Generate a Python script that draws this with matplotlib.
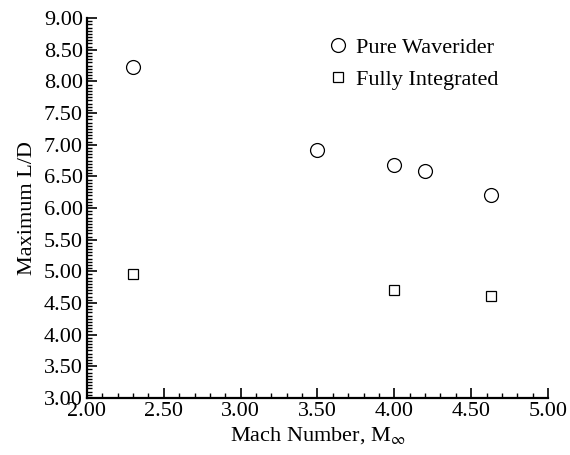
import numpy as np
import matplotlib.pyplot as plt
from matplotlib.ticker import MultipleLocator, FormatStrFormatter

plt.rcParams['font.family'] = ['Liberation Serif', 'DejaVu Serif']
plt.rcParams['mathtext.fontset'] = 'stix'

# Maximum L/D versus freestream Mach number
mach_pure = [2.30, 3.50, 4.00, 4.20, 4.63]
ld_pure = [8.22, 6.91, 6.68, 6.59, 6.20]

mach_integrated = [2.30, 4.00, 4.63]
ld_integrated = [4.96, 4.70, 4.61]

fig = plt.figure(figsize=(5.7, 4.55), dpi=100)
ax = fig.add_axes([0.1526, 0.1253, 0.8088, 0.8351])

ax.plot(mach_pure, ld_pure, linestyle='none', marker='o', markersize=10,
        markerfacecolor='white', markeredgecolor='black', markeredgewidth=0.9,
        label='Pure Waverider', clip_on=False)
ax.plot(mach_integrated, ld_integrated, linestyle='none', marker='s', markersize=7.5,
        markerfacecolor='white', markeredgecolor='black', markeredgewidth=0.9,
        label='Fully Integrated', clip_on=False)

ax.set_xlim(2.0, 5.0)
ax.set_ylim(3.0, 9.0)
ax.xaxis.set_major_locator(MultipleLocator(0.5))
ax.xaxis.set_minor_locator(MultipleLocator(0.1))
ax.yaxis.set_major_locator(MultipleLocator(0.5))
ax.yaxis.set_minor_locator(MultipleLocator(0.05))
ax.xaxis.set_major_formatter(FormatStrFormatter('%.2f'))
ax.yaxis.set_major_formatter(FormatStrFormatter('%.2f'))

for side in ['top', 'right']:
    ax.spines[side].set_visible(False)
for side in ['left', 'bottom']:
    ax.spines[side].set_linewidth(1.6)

ax.tick_params(which='major', direction='in', length=7, width=1.2, labelsize=16, pad=3)
ax.tick_params(which='minor', direction='in', length=3.5, width=1.0)

ax.set_xlabel(r'Mach Number, M$_{\infty}$', fontsize=16, labelpad=3)
ax.set_ylabel('Maximum L/D', fontsize=16, labelpad=5)

ax.legend(loc='upper left', bbox_to_anchor=(0.507, 0.972), frameon=False, fontsize=16,
          handlelength=0.8, handletextpad=0.4, labelspacing=0.5, borderaxespad=0.0)

fig.savefig('out.png', dpi=100)
